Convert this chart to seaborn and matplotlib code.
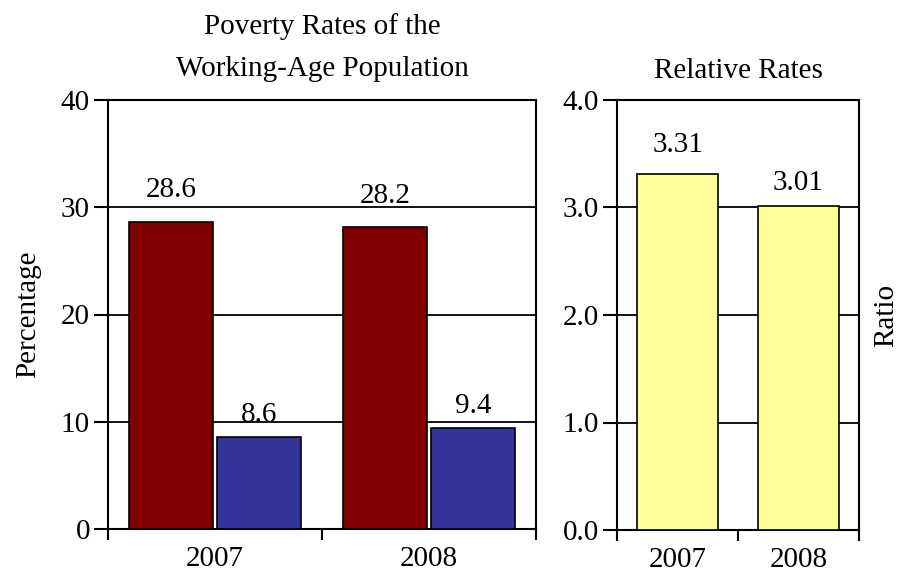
import matplotlib
matplotlib.use("Agg")
import matplotlib.pyplot as plt
import seaborn as sns
import pandas as pd
import numpy as np

years = ["2007", "2008"]
groups = ["Group A", "Group B"]
rates_a = [28.6, 28.2]
rates_b = [8.6, 9.4]
ratios = [3.31, 3.01]
rate_labels_a = ["28.6", "28.2"]
rate_labels_b = ["8.6", "9.4"]
ratio_labels = ["3.31", "3.01"]
left_ticks = [0, 10, 20, 30, 40]
right_ticks = [0.0, 1.0, 2.0, 3.0, 4.0]

sns.set_theme(style="white")
plt.rcParams['font.family'] = ['Liberation Serif', 'DejaVu Serif']
plt.rcParams.update({
    "text.color": "black",
    "axes.labelcolor": "black",
    "xtick.color": "black",
    "ytick.color": "black",
    "axes.titlecolor": "black",
})

df = pd.DataFrame({
    "year": years * 2,
    "group": [groups[0]] * 2 + [groups[1]] * 2,
    "rate": rates_a + rates_b,
    "label": rate_labels_a + rate_labels_b,
})
df_r = pd.DataFrame({"year": years, "ratio": ratios, "label": ratio_labels})

fig = plt.figure(figsize=(9.02, 5.79), dpi=100)
ax1 = fig.add_axes([108/902, 1-529/579, (536-108)/902, (529-100)/579])
ax2 = fig.add_axes([617/902, 1-530/579, (859-617)/902, (530-100)/579])

fs = 21


def label_bars(ax, container, labels, pads):
    for patch, lab, pad in zip(container.patches, labels, pads):
        x = patch.get_x() + patch.get_width() / 2
        y = patch.get_y() + patch.get_height()
        ax.annotate(lab, xy=(x, y), xytext=(0, pad), textcoords="offset points",
                    ha="center", va="bottom", fontsize=fs, color="black")


# left panel
sns.barplot(data=df, x="year", y="rate", hue="group", order=years, hue_order=groups,
            palette=["#800000", "#333399"], width=0.82, gap=0.05, edgecolor="black",
            linewidth=1.2, saturation=1, legend=False, ax=ax1, zorder=3, errorbar=None)
for cont, labs, pads in zip(ax1.containers, [rate_labels_a, rate_labels_b],
                            [[14.0, 12.5], [6.0, 6.5]]):
    label_bars(ax1, cont, labs, pads)
ax1.set_ylim(0, 40)
ax1.set_xlim(-0.5, 1.5)
ax1.set_yticks(left_ticks)
ax1.set_yticklabels([str(t) for t in left_ticks], fontsize=fs)
ax1.set_ylabel("Percentage", fontsize=fs, labelpad=14)
ax1.set_xlabel("")
ax1.set_title("Poverty Rates of the\nWorking-Age Population", fontsize=fs, pad=17, linespacing=1.8)

# right panel
sns.barplot(data=df_r, x="year", y="ratio", order=years, color="#FFFF99", width=0.67,
            edgecolor="black", linewidth=1.2, saturation=1, ax=ax2, zorder=3, errorbar=None)
label_bars(ax2, ax2.containers[0], ratio_labels, [11.5, 7.5])
ax2.set_ylim(0, 4)
ax2.set_xlim(-0.5, 1.5)
ax2.set_yticks(right_ticks)
ax2.set_yticklabels([f"{t:.1f}" for t in right_ticks], fontsize=fs)
ax2.set_xlabel("")
ax2.yaxis.set_label_position("right")
ax2.set_ylabel("Ratio", fontsize=fs, labelpad=10)
ax2.set_title("Relative Rates", fontsize=fs, pad=16)

for ax in (ax1, ax2):
    ax.grid(axis="y", color="black", linewidth=1.3, zorder=0)
    ax.set_axisbelow(True)
    for s in ax.spines.values():
        s.set_visible(True)
        s.set_color("black")
        s.set_linewidth(1.5)
    ax.set_xticks([0, 1])
    ax.set_xticklabels(years, fontsize=fs)
    ax.set_xticks([-0.5, 0.5, 1.5], minor=True)
    ax.tick_params(axis="x", which="major", length=0, pad=12)
    ax.tick_params(axis="x", which="minor", length=8, width=1.5, direction="out", bottom=True, color="black")
    ax.tick_params(axis="y", length=10, width=1.5, direction="out", left=True, color="black", pad=3)

fig.savefig("out.png", dpi=100)
